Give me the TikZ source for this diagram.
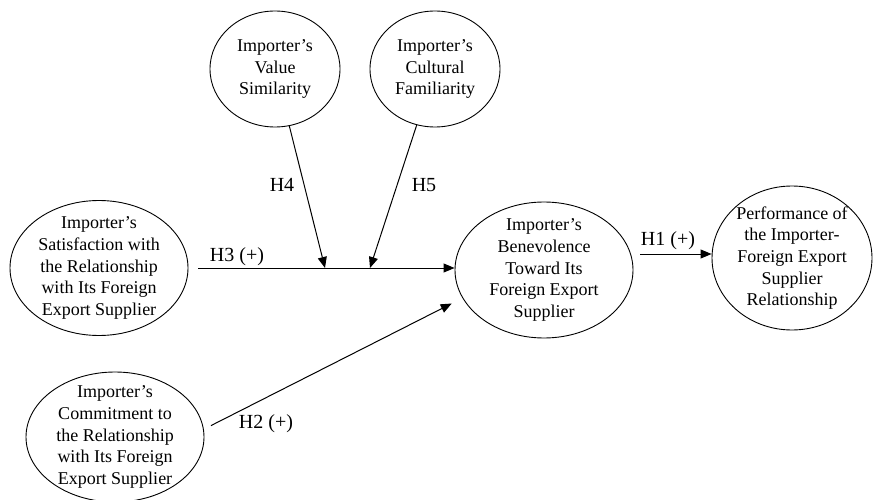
\documentclass[tikz,border=0pt]{standalone}
\usepackage{fontspec}
\setmainfont{Liberation Serif}
\usetikzlibrary{shapes, arrows.meta, positioning, calc}

\begin{document}
\begin{tikzpicture}[x=1pt, y=-1pt,
  construct/.style={draw, ellipse, inner xsep=0pt, inner ysep=-12pt, align=center, line width=0.9pt, font=\fontsize{18}{21.7}\selectfont},
  link/.style={draw, line width=1pt, -{Triangle[length=11pt, width=9pt]}},
  hyp/.style={font=\fontsize{20}{24}\selectfont, inner sep=0pt}]
  \useasboundingbox (0,0) rectangle (873,500);

  % moderators
  \node[construct, minimum width=130pt, minimum height=116pt] (value) at (275,69) {Importer’s\\Value\\Similarity};
  \node[construct, minimum width=130pt, minimum height=116pt] (cult) at (435,69) {Importer’s\\Cultural\\Familiarity};

  % antecedents, mediator, outcome
  \node[construct, minimum width=178pt, minimum height=135pt] (sat) at (99,268) {Importer’s\\Satisfaction with\\the Relationship\\with Its Foreign\\Export Supplier};
  \node[construct, minimum width=178pt, minimum height=130pt] (com) at (115,437) {Importer’s\\Commitment to\\the Relationship\\with Its Foreign\\Export Supplier};
  \node[construct, minimum width=178pt, minimum height=136pt] (ben) at (544,270) {Importer’s\\Benevolence\\Toward Its\\Foreign Export\\Supplier};
  \node[construct, minimum width=160pt, minimum height=144pt] (perf) at (792,258) {Performance of\\the Importer-\\Foreign Export\\Supplier\\Relationship};

  % paths
  \coordinate (m4) at (325,268);
  \coordinate (m5) at (370,268);
  \draw[link, shorten <=10pt] (sat.east) -- (sat.east -| ben.west);
  \draw[link] (value) -- (m4);
  \draw[link] (cult) -- (m5);
  \draw[link, shorten <=8pt, shorten >=12pt] (com.5) -- (ben.199);
  \draw[link, shorten <=7pt] (ben.east |- 0,254) -- (perf.west |- 0,254);

  % hypotheses
  \node[hyp] (h3) at (237,257) {H3 (+)};
  \node[hyp] (h4) at (282,185) {H4};
  \node[hyp] (h5) at (424,185) {H5};
  \node[hyp] (h2) at (266,424) {H2 (+)};
  \node[hyp] (h1) at (668,241) {H1 (+)};
\end{tikzpicture}
\end{document}
